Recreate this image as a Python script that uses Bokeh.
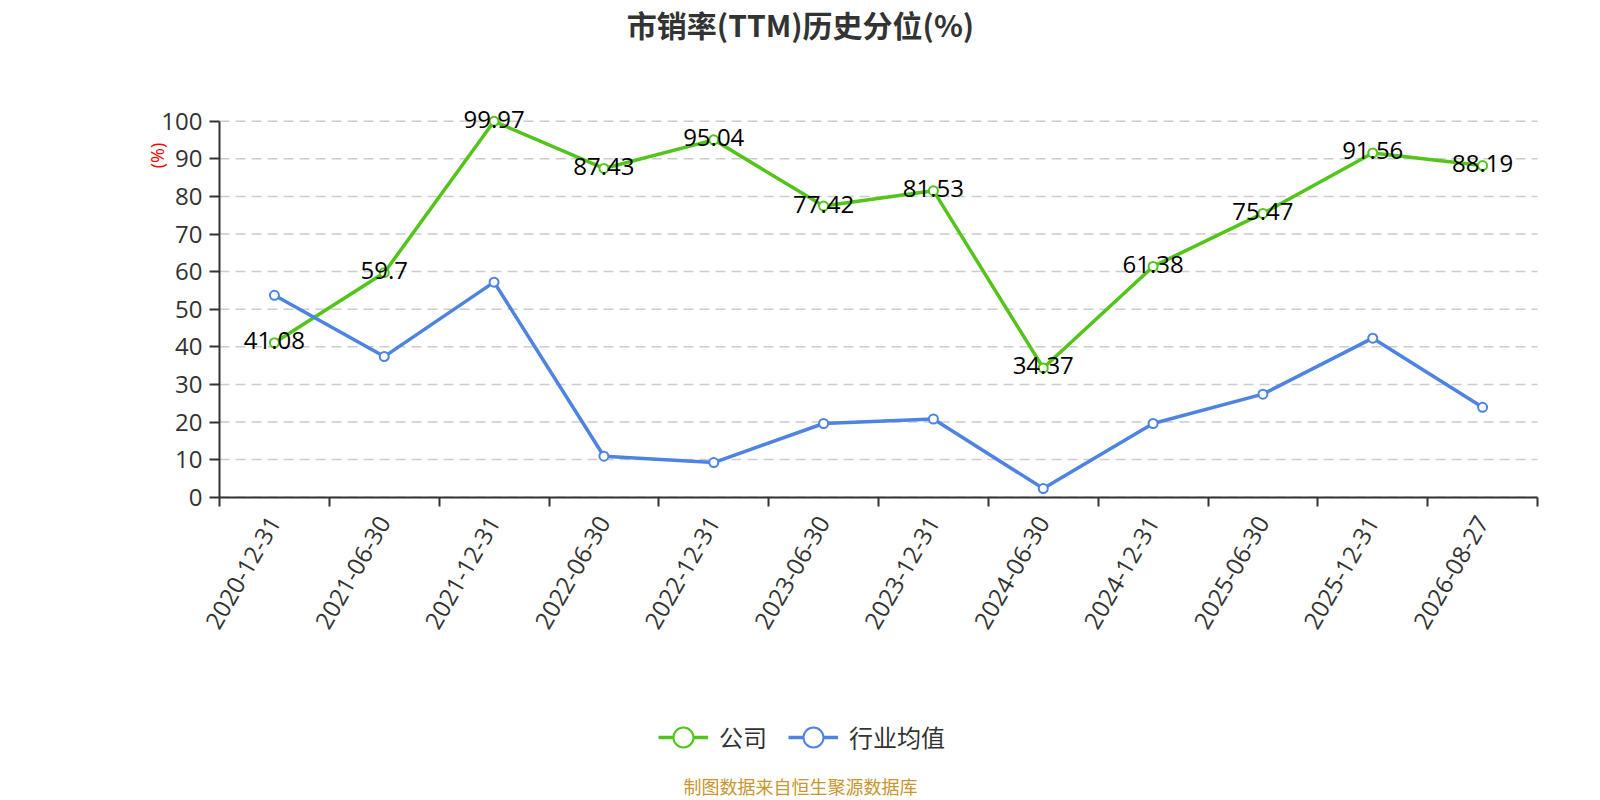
from math import pi
from bokeh.plotting import figure
from bokeh.models import (Range1d, LinearAxis, FixedTicker, LabelSet, Label,
                          Legend, LegendItem, ColumnDataSource)
from bokeh.core.properties import value
from bokeh.embed import file_html
from bokeh.resources import INLINE

# ---- data ----
dates = ["2020-12-31", "2021-06-30", "2021-12-31", "2022-06-30", "2022-12-31",
         "2023-06-30", "2023-12-31", "2024-06-30", "2024-12-31", "2025-06-30",
         "2025-12-31", "2026-08-27"]
company = [41.08, 59.7, 99.97, 87.43, 95.04, 77.42, 81.53, 34.37, 61.38, 75.47, 91.56, 88.19]
industry = [53.7, 37.4, 57.2, 10.9, 9.2, 19.6, 20.8, 2.3, 19.6, 27.4, 42.3, 23.9]
y_ticks = [0, 10, 20, 30, 40, 50, 60, 70, 80, 90, 100]
title_text = "市销率(TTM)历史分位(%)"
series_names = ["公司", "行业均值"]
unit_text = "(%)"
source_text = "制图数据来自恒生聚源数据库"

GREEN = "#52C41A"
BLUE = "#4D84E1"
AXIS = "#333333"
NUM_FONT = "Open Sans"
CJK_FONT = "Noto Sans CJK SC"

W, H = 1600, 800
PLOT_L, PLOT_R, PLOT_B, PX_PER_UNIT = 219, 1537, 496.7, 3.76
n = len(dates)
cat_w = (PLOT_R - PLOT_L) / n

centers = [i + 0.5 for i in range(n)]
bounds = [float(i) for i in range(n + 1)]

src = ColumnDataSource(dict(x=centers, c=company, ind=industry,
                            t=[str(v) for v in company]))
grid_src = ColumnDataSource(dict(y=y_ticks, x0=[0] * len(y_ticks),
                                 x1=[n] * len(y_ticks)))

# the frame fills the whole canvas; axes are pinned at data positions
p = figure(width=W, height=H, output_backend="svg", toolbar_location=None,
           x_range=Range1d(-PLOT_L / cat_w, (W - PLOT_L) / cat_w),
           y_range=Range1d(-(H - PLOT_B) / PX_PER_UNIT, PLOT_B / PX_PER_UNIT),
           x_axis_location=None, y_axis_location=None,
           min_border=0)
p.outline_line_color = None
p.background_fill_color = "white"
p.border_fill_color = "white"
p.xgrid.visible = False
p.ygrid.visible = False

# dashed horizontal grid lines, limited to the category span
p.segment(x0="x0", x1="x1", y0="y", y1="y", source=grid_src,
          line_color="#CCCCCC", line_width=1.5, line_dash="10 6")

# axes
xaxis = LinearAxis(ticker=FixedTicker(ticks=centers, minor_ticks=bounds),
                   major_label_overrides={c: d for c, d in zip(centers, dates)},
                   fixed_location=0, bounds=(0, n))
xaxis.major_tick_out = 0
xaxis.major_tick_in = 0
xaxis.minor_tick_out = 9
xaxis.minor_tick_in = 0
xaxis.minor_tick_line_color = AXIS
xaxis.minor_tick_line_width = 2
xaxis.axis_line_color = AXIS
xaxis.axis_line_width = 2
xaxis.major_label_orientation = pi / 3
xaxis.major_label_standoff = 12
xaxis.major_label_text_font = NUM_FONT
xaxis.major_label_text_font_size = "24px"
xaxis.major_label_text_color = AXIS
p.add_layout(xaxis, "below")

yaxis = LinearAxis(ticker=FixedTicker(ticks=y_ticks), fixed_location=0,
                   bounds=(0, 100))
yaxis.major_tick_out = 10
yaxis.major_tick_in = 0
yaxis.minor_tick_out = 0
yaxis.minor_tick_in = 0
yaxis.major_tick_line_color = AXIS
yaxis.major_tick_line_width = 2
yaxis.axis_line_color = AXIS
yaxis.axis_line_width = 2
yaxis.major_label_standoff = 7
yaxis.major_label_text_font = NUM_FONT
yaxis.major_label_text_font_size = "24px"
yaxis.major_label_text_color = AXIS
p.add_layout(yaxis, "left")

# series
gl = p.line("x", "c", source=src, line_color=GREEN, line_width=3.5)
gs = p.scatter("x", "c", source=src, size=9, fill_color="white",
               line_color=GREEN, line_width=2)
bl = p.line("x", "ind", source=src, line_color=BLUE, line_width=3.5)
bs = p.scatter("x", "ind", source=src, size=9, fill_color="white",
               line_color=BLUE, line_width=2)

labels = LabelSet(x="x", y="c", text="t", source=src, text_align="center",
                  text_baseline="middle", y_offset=2, text_color="black",
                  text_font=value(NUM_FONT), text_font_size="24px")
p.add_layout(labels)

# legend
legend = Legend(items=[LegendItem(label=series_names[0], renderers=[gl, gs]),
                       LegendItem(label=series_names[1], renderers=[bl, bs])],
                location=(658, H - 761.7), orientation="horizontal",
                glyph_width=50, glyph_height=50, label_standoff=11, spacing=21,
                padding=0, margin=0, border_line_color=None,
                background_fill_alpha=0, label_text_font=CJK_FONT,
                label_text_font_size="24px", label_text_color=AXIS)
p.add_layout(legend)

# title, unit label, source note (screen units from the canvas bottom-left)
p.add_layout(Label(x=W / 2, y=H - 23, x_units="screen", y_units="screen",
                   text=title_text, text_align="center", text_baseline="middle",
                   text_font=CJK_FONT, text_font_size="30px",
                   text_font_style="bold", text_color=AXIS))
p.add_layout(Label(x=156.7, y=H - 155, x_units="screen", y_units="screen",
                   text=unit_text, angle=pi / 2, text_align="center",
                   text_baseline="middle", text_font=NUM_FONT,
                   text_font_size="18px", text_color="red"))
p.add_layout(Label(x=W / 2, y=H - 785, x_units="screen", y_units="screen",
                   text=source_text, text_align="center", text_baseline="middle",
                   text_font=CJK_FONT, text_font_size="18px",
                   text_color="#C9952E"))

open("out.html", "w").write(file_html(p, INLINE))
